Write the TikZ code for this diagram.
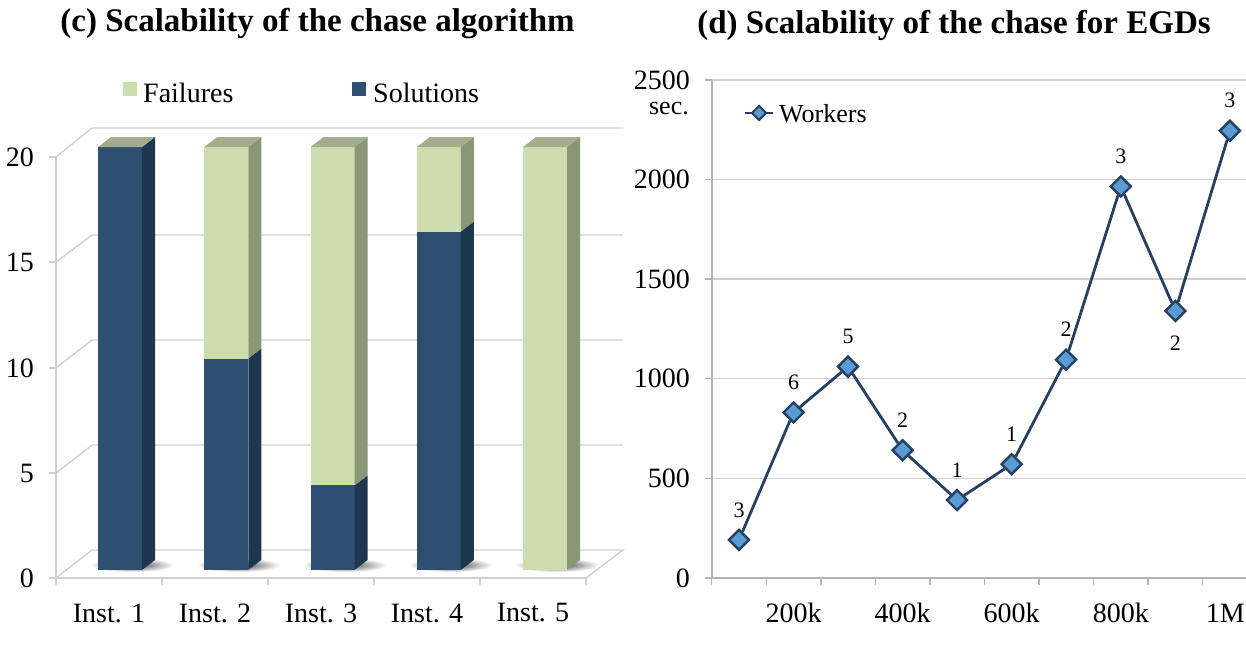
\documentclass[tikz,border=0pt]{standalone}
\usepackage{fontspec}
\setmainfont{Liberation Serif}
\usetikzlibrary{shapes.geometric}

\definecolor{solfront}{RGB}{46,79,112}
\definecolor{solside}{RGB}{30,55,80}
\definecolor{failfront}{RGB}{206,221,173}
\definecolor{failside}{RGB}{138,151,118}
\definecolor{failtop}{RGB}{161,174,137}
\definecolor{gridgray}{RGB}{208,208,208}
\definecolor{axisgray}{RGB}{180,180,180}
\definecolor{workblue}{RGB}{37,64,97}
\definecolor{markblue}{RGB}{91,155,213}

% one stacked segment of a bar: x, from, to, front colour, side colour
\newcommand{\chasebar}[5]{%
  \fill[#4] (#1,{570-21.15*#2}) rectangle ({#1+44},{570-21.15*#3});
  \fill[#5] ({#1+44},{570-21.15*#2}) -- ({#1+57},{560-21.15*#2})
    -- ({#1+57},{560-21.15*#3}) -- ({#1+44},{570-21.15*#3}) -- cycle;
}
% top of a bar at 20 and its shadow on the floor
\newcommand{\chasetop}[1]{%
  \fill[failtop] (#1,147) -- ({#1+13},137) -- ({#1+57},137) -- ({#1+44},147) -- cycle;
}
\newcommand{\chaseshadow}[1]{%
  \shade[inner color=black!75, outer color=white] ({#1+34},565) ellipse (42 and 7);
}

\tikzset{
  grid/.style={draw=gridgray, line width=1.4pt},
  axis/.style={draw=axisgray, line width=1.4pt},
  ticklbl/.style={font=\fontsize{28}{30}\selectfont, inner sep=0pt},
  title/.style={font=\fontsize{33}{36}\selectfont\bfseries, inner sep=0pt},
  datalbl/.style={font=\fontsize{22}{24}\selectfont, inner sep=0pt},
  worker/.style={diamond, draw=workblue, fill=markblue, line width=2.4pt,
    minimum width=21pt, minimum height=21pt, inner sep=0pt},
  workline/.style={draw=workblue, line width=2.8pt},
}

\begin{document}
\begin{tikzpicture}[x=1pt, y=-1pt]
  \useasboundingbox (0,0) rectangle (1246,645);

  % (c) stacked bars
  \node[title] (ctitle) at (317.5,24) {(c) Scalability of the chase algorithm};

  \draw[grid] (56,578) -- (92,550) -- (623,550) -- (586,578);
  \draw[grid] (56,473) -- (92,445) -- (623,445);
  \draw[grid] (56,368) -- (92,340) -- (623,340);
  \draw[grid] (56,262) -- (92,235) -- (623,235);
  \draw[grid] (56,157) -- (92,128) -- (623,128);
  \draw[grid] (56,157) -- (56,578) -- (586,578);
  \draw[grid] (49,578) -- (56,578);
  \draw[grid] (49,473) -- (56,473);
  \draw[grid] (49,368) -- (56,368);
  \draw[grid] (49,262) -- (56,262);
  \draw[grid] (49,157) -- (56,157);
  \foreach \tx in {56,162,268,374,480,586}
    \draw[grid] (\tx,578) -- (\tx,585);

  \node[ticklbl, anchor=east] (c0) at (34,578) {0};
  \node[ticklbl, anchor=east] (c5) at (34,473) {5};
  \node[ticklbl, anchor=east] (c10) at (34,368) {10};
  \node[ticklbl, anchor=east] (c15) at (34,262) {15};
  \node[ticklbl, anchor=east] (c20) at (34,157) {20};

  \chaseshadow{98}
  \chaseshadow{204.25}
  \chaseshadow{310.5}
  \chaseshadow{416.75}
  \chaseshadow{523}

  \chasebar{98}{0}{20}{solfront}{solside}
  \chasebar{204.25}{0}{10}{solfront}{solside}
  \chasebar{204.25}{10}{20}{failfront}{failside}
  \chasebar{310.5}{0}{4}{solfront}{solside}
  \chasebar{310.5}{4}{20}{failfront}{failside}
  \chasebar{416.75}{0}{16}{solfront}{solside}
  \chasebar{416.75}{16}{20}{failfront}{failside}
  \chasebar{523}{0}{20}{failfront}{failside}
  \chasetop{98}
  \chasetop{204.25}
  \chasetop{310.5}
  \chasetop{416.75}
  \chasetop{523}

  \node[ticklbl] (inst1) at (109,613) {Inst. 1};
  \node[ticklbl] (inst2) at (215,613) {Inst. 2};
  \node[ticklbl] (inst3) at (321,613) {Inst. 3};
  \node[ticklbl] (inst4) at (427,613) {Inst. 4};
  \node[ticklbl] (inst5) at (533,613) {Inst. 5};

  \fill[failfront] (123,82) rectangle (137,96);
  \node[ticklbl, anchor=west] (failures) at (143,93) {Failures};
  \fill[solfront] (352,82) rectangle (366,96);
  \node[ticklbl, anchor=west] (solutions) at (373,93) {Solutions};

  % (d) line chart
  \node[title] (dtitle) at (954,25) {(d) Scalability of the chase for EGDs};

  \draw[grid] (712,478.2) -- (1246,478.2);
  \draw[grid] (712,378.6) -- (1246,378.6);
  \draw[grid] (712,279) -- (1246,279);
  \draw[grid] (712,179.5) -- (1246,179.5);
  \draw[grid] (712,80) -- (1246,80);
  \draw[axis] (712,80) -- (712,578) -- (1246,578);
  \foreach \ty in {80,179.5,279,378.6,478.2,578}
    \draw[axis] (705,\ty) -- (712,\ty);
  \foreach \k in {0,...,9}
    \draw[axis] ({711.7+54.55*\k},578) -- ({711.7+54.55*\k},585);

  \node[ticklbl, anchor=east] (d0) at (690,578) {0};
  \node[ticklbl, anchor=east] (d500) at (690,478.2) {500};
  \node[ticklbl, anchor=east] (d1000) at (690,378.6) {1000};
  \node[ticklbl, anchor=east] (d1500) at (690,279) {1500};
  \node[ticklbl, anchor=east] (d2000) at (690,179.5) {2000};
  \node[ticklbl, anchor=east] (d2500) at (690,80) {2500};
  \node[font=\fontsize{26}{28}\selectfont, inner sep=0pt, anchor=east] (sec) at (689,109) {sec.};

  \node[ticklbl] (k200) at (793.5,613) {200k};
  \node[ticklbl] (k400) at (902.6,613) {400k};
  \node[ticklbl] (k600) at (1011.7,613) {600k};
  \node[ticklbl] (k800) at (1120.8,613) {800k};
  \node[ticklbl, anchor=east] (m1) at (1245,613) {1M};

  \node[worker] (p1) at (739,{577.7-0.1991*190}) {};
  \node[worker] (p2) at (793.5,{577.7-0.1991*830}) {};
  \node[worker] (p3) at (848,{577.7-0.1991*1060}) {};
  \node[worker] (p4) at (902.6,{577.7-0.1991*640}) {};
  \node[worker] (p5) at (957,{577.7-0.1991*390}) {};
  \node[worker] (p6) at (1011.7,{577.7-0.1991*570}) {};
  \node[worker] (p7) at (1066,{577.7-0.1991*1095}) {};
  \node[worker] (p8) at (1120.8,{577.7-0.1991*1965}) {};
  \node[worker] (p9) at (1175.4,{577.7-0.1991*1340}) {};
  \node[worker] (p10) at (1229.9,{577.7-0.1991*2245}) {};
  \draw[workline] (p1) -- (p2) -- (p3) -- (p4) -- (p5) -- (p6) -- (p7)
    -- (p8) -- (p9) -- (p10);

  \node[datalbl] (n1) at ([yshift=30pt]p1.center) {3};
  \node[datalbl] (n2) at ([yshift=30pt]p2.center) {6};
  \node[datalbl] (n3) at ([yshift=30pt]p3.center) {5};
  \node[datalbl] (n4) at ([yshift=30pt]p4.center) {2};
  \node[datalbl] (n5) at ([yshift=30pt]p5.center) {1};
  \node[datalbl] (n6) at ([yshift=30pt]p6.center) {1};
  \node[datalbl] (n7) at ([yshift=30pt]p7.center) {2};
  \node[datalbl] (n8) at ([yshift=30pt]p8.center) {3};
  \node[datalbl] (n9) at ([yshift=-32pt]p9.center) {2};
  \node[datalbl] (n10) at ([yshift=30pt]p10.center) {3};

  \coordinate (legA) at (745,113);
  \coordinate (legB) at (773,113);
  \draw[workline] (legA) -- (legB);
  \node[worker, minimum width=15pt, minimum height=15pt, line width=2pt] (legmark) at (759,113) {};
  \node[font=\fontsize{26}{28}\selectfont, inner sep=0pt, anchor=west] (workers) at (779,114) {Workers};
\end{tikzpicture}
\end{document}
